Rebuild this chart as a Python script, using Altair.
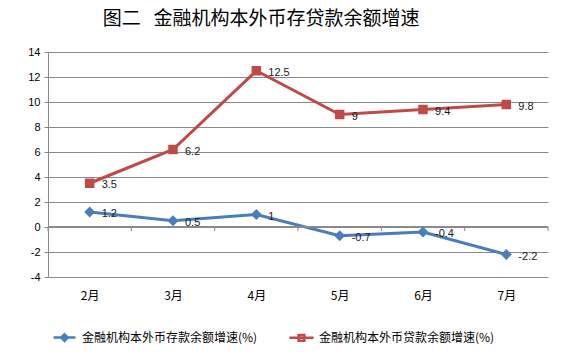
import altair as alt
import pandas as pd

months = ["2月", "3月", "4月", "5月", "6月", "7月"]
deposit = [1.2, 0.5, 1.0, -0.7, -0.4, -2.2]
loan = [3.5, 6.2, 12.5, 9.0, 9.4, 9.8]
series_names = ["金融机构本外币存款余额增速(%)", "金融机构本外币贷款余额增速(%)"]
colors = ["#4A7EBB", "#BE4B48"]
y_ticks = [-4, -2, 0, 2, 4, 6, 8, 10, 12, 14]
title_text = "图二\u00a0\u00a0\u00a0金融机构本外币存贷款余额增速"

rows = []
for name, vals in zip(series_names, [deposit, loan]):
    for m, v in zip(months, vals):
        rows.append({"month": m, "value": v, "series": name, "label": f"{v:g}"})
df = pd.DataFrame(rows)
mdf = pd.DataFrame({"month": months})

GRID = "#898989"
HALF_STEP = 500 / 6 / 2

x_enc = alt.X("month:N", sort=months, scale=alt.Scale(type="point", padding=0.5),
              axis=alt.Axis(title=None, domain=False, ticks=False, grid=False,
                            labelPadding=13, labelFont="Noto Sans CJK SC",
                            labelFontSize=12, labelColor="#000000", labelAngle=0))
y_scale = alt.Scale(domain=[-4, 14], nice=False, zero=False)
y_axis = alt.Axis(title=None, values=y_ticks, grid=True, gridColor=GRID,
                  domainColor=GRID, tickColor=GRID, tickSize=4, labelOverlap=False,
                  labelPadding=4, labelFont="Liberation Sans", labelFontSize=11,
                  labelColor="#000000", labelExpr="datum.value + ''")
y_enc = alt.Y("value:Q", scale=y_scale, axis=y_axis)
y_zero = alt.YDatum(0, scale=y_scale, axis=y_axis)

color_scale = alt.Scale(domain=series_names, range=colors)

legend_params = dict(orient="none", legendX=4, legendY=273, direction="horizontal", title=None)

base = alt.Chart(df)

lines = base.mark_line(strokeWidth=3).encode(
    x=x_enc, y=y_enc,
    color=alt.Color("series:N", scale=color_scale, legend=alt.Legend(**legend_params)),
    detail="series:N")

zero_line = alt.Chart(mdf).mark_rule(color=GRID, strokeWidth=1).encode(y=y_zero)

ticks = alt.Chart(mdf).mark_rule(color=GRID, strokeWidth=1, xOffset=-HALF_STEP, y2Offset=4).encode(
    x=x_enc, y=y_zero, y2=alt.datum(0))
ticks_end = alt.Chart(mdf).transform_filter(alt.datum.month == months[-1]).mark_rule(
    color=GRID, strokeWidth=1, xOffset=HALF_STEP, y2Offset=4).encode(
    x=x_enc, y=y_zero, y2=alt.datum(0))

pts_dep = base.transform_filter(alt.datum.series == series_names[0]).mark_point(
    shape="diamond", filled=True, size=120, opacity=1, color=colors[0]).encode(x=x_enc, y=y_enc)
pts_loan = base.transform_filter(alt.datum.series == series_names[1]).mark_square(
    size=90, opacity=1, color=colors[1]).encode(x=x_enc, y=y_enc)

labels = base.mark_text(align="left", baseline="middle", dx=12, dy=2, fontSize=11,
                        font="Liberation Sans", color="#1a1a1a").encode(
    x=x_enc, y=y_enc, text="label:N")

legend_paths = [
    "M-1,0H1M0,-0.3L0.3,0L0,0.3L-0.3,0Z",
    "M-1.1,0H1.1M-0.26,-0.26H0.26V0.26H-0.26Z",
]
legend_layer = base.mark_point(size=484, opacity=0).encode(
    x=x_enc, y=y_enc,
    shape=alt.Shape("series:N", scale=alt.Scale(domain=series_names, range=legend_paths),
                    legend=alt.Legend(**legend_params)),
)

chart = alt.layer(lines, zero_line, ticks, ticks_end, pts_dep, pts_loan, labels, legend_layer).properties(
    width=500, height=225,
    title=alt.TitleParams(title_text, anchor="start", dx=75, fontSize=19,
                          font="Noto Sans CJK SC", fontWeight="normal", color="#000000",
                          offset=17),
    autosize=alt.AutoSizeParams(type="none"),
    padding={"left": 40, "top": 44, "right": 15, "bottom": 70},
).configure_view(stroke=None).configure_legend(
    labelFont="Noto Sans CJK SC", labelFontSize=12, labelColor="#000000", labelLimit=400,
    symbolSize=484, symbolStrokeWidth=2.5, symbolOpacity=1, labelOffset=5, columnPadding=26,
)

chart.save("out.html", embed_options={"renderer": "svg", "actions": False})
